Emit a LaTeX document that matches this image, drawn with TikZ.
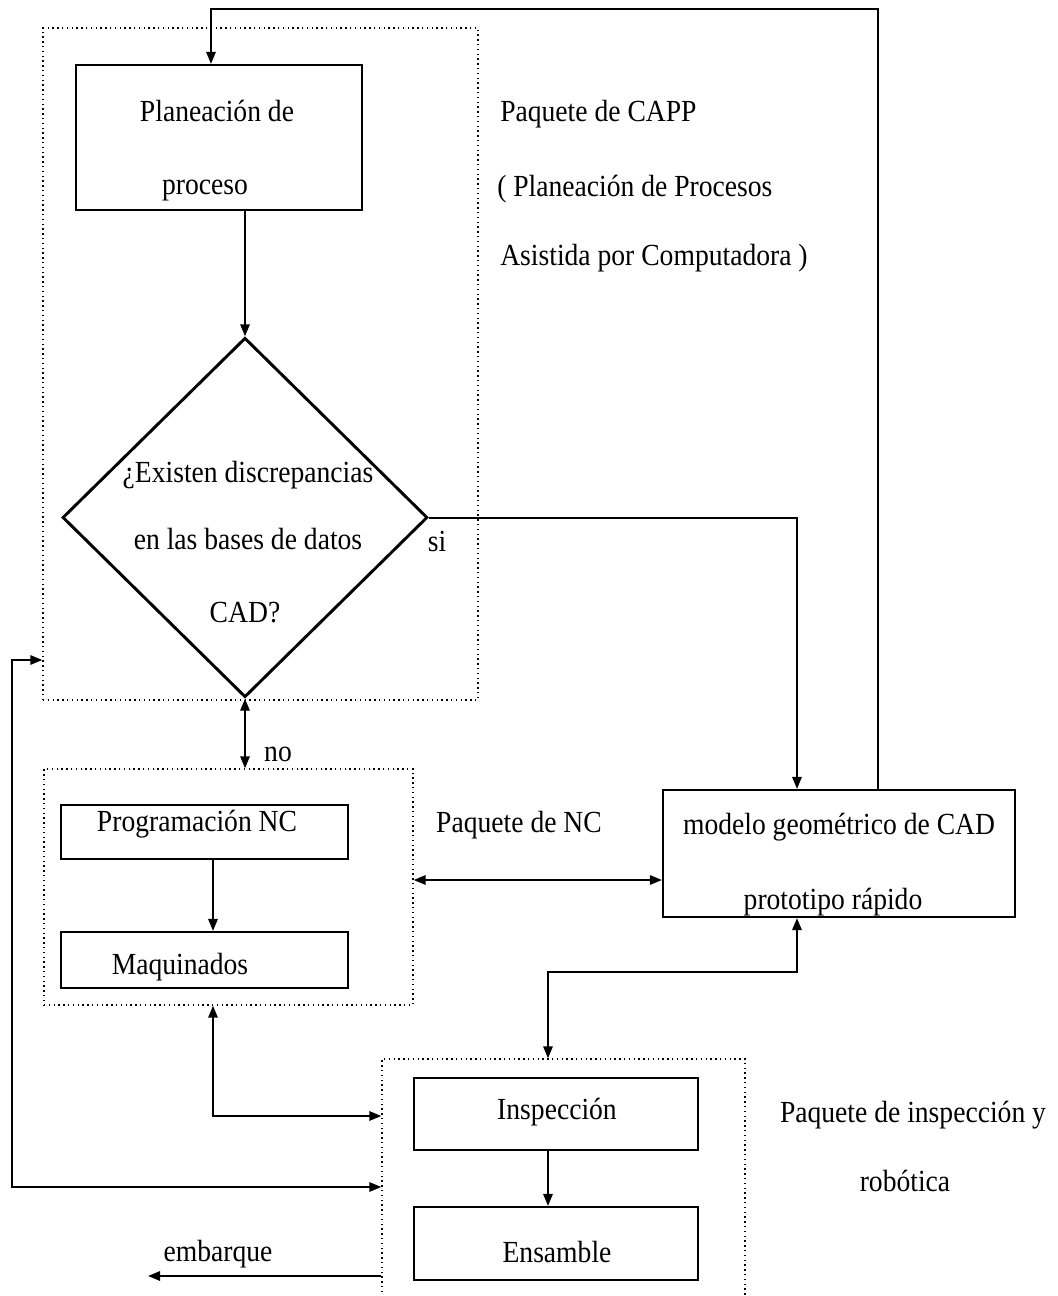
\documentclass[tikz,border=0pt]{standalone}
\usepackage{fontspec}
\setmainfont{Liberation Serif}[FakeStretch=0.9]
\usetikzlibrary{arrows.meta,shapes.geometric,fit}

\begin{document}
\begin{tikzpicture}[x=0.75pt,y=-0.75pt,
  txt/.style={inner sep=0pt,anchor=mid,yshift=-4.5pt,font=\fontsize{23}{27}\selectfont},
  ltxt/.style={txt,anchor=mid west},
  box/.style={draw,line width=1.6pt,inner sep=0pt,fit={#1}},
  pkg/.style={draw,line width=1pt,dash pattern=on 1pt off 2.6pt,inner sep=0pt,fit={#1}},
  conn/.style={line width=1.5pt,-{Triangle[length=9pt,width=7pt]}},
  dconn/.style={line width=1.5pt,{Triangle[length=9pt,width=7pt]}-{Triangle[length=9pt,width=7pt]}}]

\useasboundingbox (0,0) rectangle (1057,1296);

% columns and rows used by the connectors
\coordinate (cA) at (245,0);
\coordinate (cB) at (797,0);
\coordinate (cC) at (878,0);
\coordinate (cD) at (213,0);
\coordinate (cE) at (548,0);
\coordinate (cF) at (12,0);
\coordinate (cG) at (211,0);
\coordinate (rTop) at (0,9);
\coordinate (r660) at (0,660);
\coordinate (r880) at (0,880);
\coordinate (r972) at (0,972);
\coordinate (r1116) at (0,1116);
\coordinate (r1187) at (0,1187);
\coordinate (r1276) at (0,1276);
\coordinate (ship) at (148,1276);

% package frames
\node[pkg={(43,28) (478,700)}] (capp) {};
\node[pkg={(44,769) (413,1005)}] (nc) {};
\node[pkg={(382,1059) (745,1330)}] (ipk) {};

% process boxes
\node[box={(76,65) (362,210)}] (plan) {};
\node[box={(61,805) (348,859)}] (prog) {};
\node[box={(61,932) (348,988)}] (maq) {};
\node[box={(663,790) (1015,917)}] (model) {};
\node[box={(414,1078) (698,1150)}] (ins) {};
\node[box={(414,1207) (698,1280)}] (ens) {};
\node[draw,diamond,line width=2.2pt,inner sep=0pt,minimum width=273.75pt,minimum height=269.6pt] (dia) at (245,517.5) {};

% texts
\node[txt] (tp1) at (217,112) {Planeación de};
\node[txt] (tp2) at (205,185) {proceso};
\node[ltxt] (tc1) at (500,112) {Paquete de CAPP};
\node[ltxt] (tc2) at (497,187) {( Planeación de Procesos};
\node[ltxt] (tc3) at (500,256) {Asistida por Computadora )};
\node[txt] (td1) at (248,473) {¿Existen discrepancias};
\node[txt] (td2) at (248,540) {en las bases de datos};
\node[txt] (td3) at (245,613) {CAD?};
\node[txt] (tsi) at (437,542) {si};
\node[txt] (tno) at (278,752) {no};
\node[txt] (tpr) at (197,822) {Programación NC};
\node[txt] (tmq) at (180,965) {Maquinados};
\node[txt] (tnc) at (519,823) {Paquete de NC};
\node[txt] (tm1) at (839,825) {modelo geométrico de CAD};
\node[txt] (tm2) at (833,900) {prototipo rápido};
\node[txt] (tin) at (557,1110) {Inspección};
\node[txt] (ten) at (557,1253) {Ensamble};
\node[txt] (ti1) at (913,1113) {Paquete de inspección y};
\node[txt] (ti2) at (905,1182) {robótica};
\node[txt] (tem) at (218,1252) {embarque};

% connectors
\draw[conn] (plan.south -| cA) -- (dia.north);
\draw[conn] (dia.east) -| (model.north -| cB);
\draw[conn] (model.north -| cC) |- (rTop -| cG) -- (plan.north -| cG);
\draw[dconn] (dia.south) -- (nc.north -| cA);
\draw[conn] (prog.south -| cD) -- (maq.north -| cD);
\draw[dconn] (nc.east |- r880) -- (model.west |- r880);
\draw[dconn] (model.south -| cB) |- (r972 -| cE) -- (ipk.north -| cE);
\draw[dconn] (nc.south -| cD) |- (ipk.west |- r1116);
\draw[dconn] (ipk.west |- r1187) -| (r660 -| cF) -- (capp.west |- r660);
\draw[conn] (ipk.west |- r1276) -- (ship);
\draw[conn] (ins.south -| cE) -- (ens.north -| cE);
\end{tikzpicture}
\end{document}
